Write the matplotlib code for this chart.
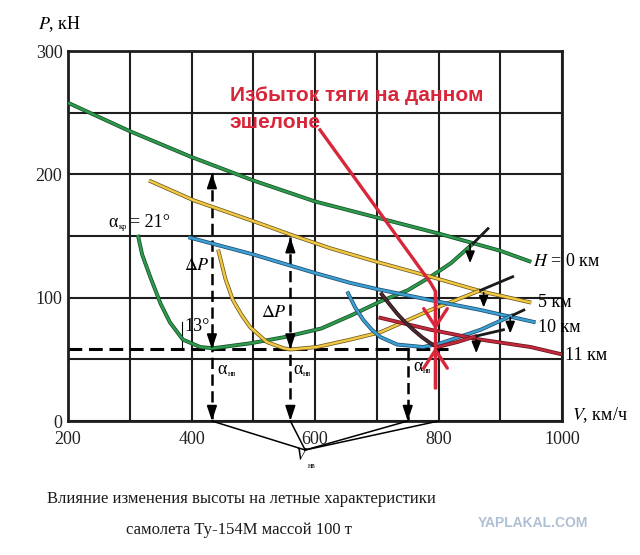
import matplotlib
matplotlib.use("Agg")
import matplotlib.pyplot as plt
import matplotlib.patheffects as pe
from matplotlib.ticker import MultipleLocator

plt.rcParams["font.family"] = ["Liberation Serif", "DejaVu Serif"]
plt.rcParams["mathtext.fontset"] = "stix"

# располагаемая тяга, P(V) по высотам
v_h0 = [200, 300, 400, 500, 600, 700, 800, 900, 950]
p_h0 = [258, 235, 214, 195, 178, 165, 152, 138, 129]
v_h5 = [331, 403, 500, 561, 625, 700, 787, 870, 950]
p_h5 = [195, 179, 162, 151, 140, 129, 117, 105, 96]
v_h10 = [395, 500, 600, 657, 700, 787, 868, 957]
p_h10 = [149, 135, 120, 112, 107, 98, 90, 80]
v_h11 = [703, 787, 868, 949, 1000]
p_h11 = [84, 74, 66, 60, 54]

# потребная тяга (U-кривые)
v_d0 = [313, 320, 333, 350, 365, 386, 414, 435, 495, 550, 610, 660, 706, 750, 787, 820, 856]
p_d0 = [151, 135, 117, 95, 80, 66, 60, 59, 63, 68, 75, 86, 97, 106, 117, 128, 144]
v_d5 = [443, 455, 467, 481, 495, 522, 549, 560, 603, 657, 706, 787, 868]
p_d5 = [139, 115, 98, 86, 76, 64, 59, 58, 60, 66, 72, 90, 106]
v_d10 = [652, 665, 678, 692, 706, 733, 775, 803, 868, 921]
p_d10 = [105, 92, 82, 74, 68, 62, 60, 63, 74, 86]
v_d11_down = [706, 720, 733, 746, 759, 773, 787, 798]
p_d11_down = [104, 95, 87, 80, 74, 68, 63, 60]
v_d11_up = [798, 830, 862]
p_d11_up = [60, 64, 69]

# черные концы потребной тяги
tips_v = [[856, 880], [868, 920], [921, 938], [862, 905]]
tips_p = [[144, 156], [106, 117], [86, 90], [69, 74]]

# стрелки смещения тяги с высотой: (V, P от, P до)
shift_arrows = [(851, 143, 128), (873, 104, 92), (916, 84, 71), (861, 66, 55)]

p_min = 58
v_min_end = 815
# пунктирные вертикали: V, верх, стрелка вверх
v_nv = [433, 560, 750]
v_nv_top = [201, 149, p_min]
v_nv_up = [True, True, False]
v_red = 795

red_path_v = [608, 787, 795, 795]
red_path_p = [236, 112, 105, 27]
red_arrow_tips = [(105, 74), (27, 60)]

v_label = (584, -23.5)
v_label_targets = [433, 560, 750, 800]

RED = "#d8263a"

fig = plt.figure(figsize=(6.4, 5.55), dpi=100)
ax = fig.add_axes([0.1063, 0.2414, 0.772, 0.6667])
ax.set_xlim(200, 1000)
ax.set_ylim(0, 300)
ax.xaxis.set_major_locator(MultipleLocator(200))
ax.xaxis.set_minor_locator(MultipleLocator(100))
ax.yaxis.set_major_locator(MultipleLocator(100))
ax.yaxis.set_minor_locator(MultipleLocator(50))
ax.grid(True, which="both", color="#1e1e1e", lw=1.5, zorder=0)
ax.set_axisbelow(True)
ax.tick_params(which="both", length=0, labelsize=13, colors="#222222")
ax.tick_params(axis="y", pad=4)
ax.tick_params(axis="x", pad=7)
for s in ax.spines.values():
    s.set_linewidth(2)
    s.set_color("#1e1e1e")


def curve(v, p, core, edge, lw=1.7):
    ax.plot(v, p, color=core, lw=lw, solid_capstyle="butt", zorder=3,
            path_effects=[pe.Stroke(linewidth=lw + 1.1, foreground=edge), pe.Normal()])


def head(x, y_from, y_to, style, color="k", lw=1.3, zorder=5):
    ax.annotate("", xy=(x, y_to), xytext=(x, y_from), zorder=zorder,
                arrowprops=dict(arrowstyle=style, color=color, lw=lw, mutation_scale=10,
                                shrinkA=0, shrinkB=0))


# dashed constructions
ax.plot([200, v_min_end], [p_min, p_min], color="k", lw=2.2, ls=(0, (4.5, 2.2)), zorder=2)
for x, top, up in zip(v_nv, v_nv_top, v_nv_up):
    ax.plot([x, x], [top, 0], color="k", lw=1.8, ls=(0, (4.5, 2.2)), zorder=2)
    hs = "-|>,head_length=0.9,head_width=0.3"
    if up:
        head(x, top - 10, top, hs)
        head(x, p_min + 10, p_min, hs)
    head(x, 10, 0, hs)
ax.plot([385, 385], [80, 59], color="k", lw=0.8, zorder=2)

curve(v_h0, p_h0, "#2f9a4c", "#14502a")
curve(v_d0, p_d0, "#2f9a4c", "#14502a")
curve(v_h5, p_h5, "#f3c845", "#6b5a1c")
curve(v_d5, p_d5, "#f3c845", "#6b5a1c")
curve(v_h10, p_h10, "#3d9fd2", "#1c4e70")
curve(v_d10, p_d10, "#3d9fd2", "#1c4e70")
curve(v_h11, p_h11, "#c22a3c", "#6a1420")
curve(v_d11_down, p_d11_down, "#4a2830", "#2a1418")
curve(v_d11_up, p_d11_up, "#c22a3c", "#6a1420")
for tv, tp in zip(tips_v, tips_p):
    ax.plot(tv, tp, color="#1a1a1a", lw=2.0, zorder=3)

for x, y0, y1 in shift_arrows:
    head(x, y0, y1, "-|>,head_length=0.7,head_width=0.28", lw=1.2)

# red pointer
ax.plot(red_path_v, red_path_p, color=RED, lw=2.4, zorder=6)
for y0, y1 in red_arrow_tips:
    head(v_red, y0, y1, "->,head_length=1.3,head_width=0.85", color=RED, lw=2.4, zorder=6)
red_font = dict(color=RED, fontsize=15, fontweight="bold", family=["Liberation Sans", "DejaVu Sans"],
                ha="left", va="baseline", zorder=7)
ax.text(462, 259.5, "Избыток тяги на данном", **red_font)
ax.text(462, 237.5, "эшелоне", **red_font)

# V_нв lines
for x in v_label_targets:
    ax.plot([x, v_label[0]], [0, v_label[1]], color="k", lw=1.1, clip_on=False, zorder=4)
ax.text(579, -28.5, "$V$", fontsize=12, ha="center", va="center", clip_on=False)
ax.text(594, -36.5, "нв", fontsize=5.5, ha="center", va="center", clip_on=False)

# labels
ax.text(151, 322, "$P$, кН", fontsize=13, ha="left", va="center", clip_on=False)
ax.text(1016, 5, "$V$, км/ч", fontsize=13, ha="left", va="center", clip_on=False)
ax.text(953, 129, "$H$ = 0 км", fontsize=13, ha="left", va="center", clip_on=False)
ax.text(961, 96, "5 км", fontsize=13, ha="left", va="center", clip_on=False)
ax.text(961, 76, "10 км", fontsize=13, ha="left", va="center", clip_on=False)
ax.text(1005, 53.5, "11 км", fontsize=13, ha="left", va="center", clip_on=False)
ax.text(430, 126, r"$\Delta P$", fontsize=13, ha="right", va="center")
ax.text(555, 88, r"$\Delta P$", fontsize=13, ha="right", va="center")
ax.text(389, 77, "13°", fontsize=13, ha="left", va="center")
ax.text(265, 161, "α", fontsize=13, ha="left", va="center")
ax.text(283, 157, "кр", fontsize=6, ha="left", va="center")
ax.text(300, 161, "= 21°", fontsize=13, ha="left", va="center")
for xa, ya in [(450, 42), (572, 42), (766, 44)]:
    ax.text(xa, ya, "α", fontsize=13, ha="center", va="center")
    ax.text(xa + 15, ya - 3.5, "нв", fontsize=6, ha="center", va="center")

fig.text(0.378, 0.101, "Влияние изменения высоты на летные характеристики",
         fontsize=12, ha="center", va="center", color="#1a1a1a")
fig.text(0.374, 0.045, "самолета Ту-154М массой 100 т",
         fontsize=12, ha="center", va="center", color="#1a1a1a")
fig.text(0.832, 0.057, "YAPLAKAL.COM", fontsize=10, fontweight="bold",
         family=["Liberation Sans", "DejaVu Sans"], color="#b0c0d4", ha="center", va="center")

fig.savefig("out.png", dpi=100)
